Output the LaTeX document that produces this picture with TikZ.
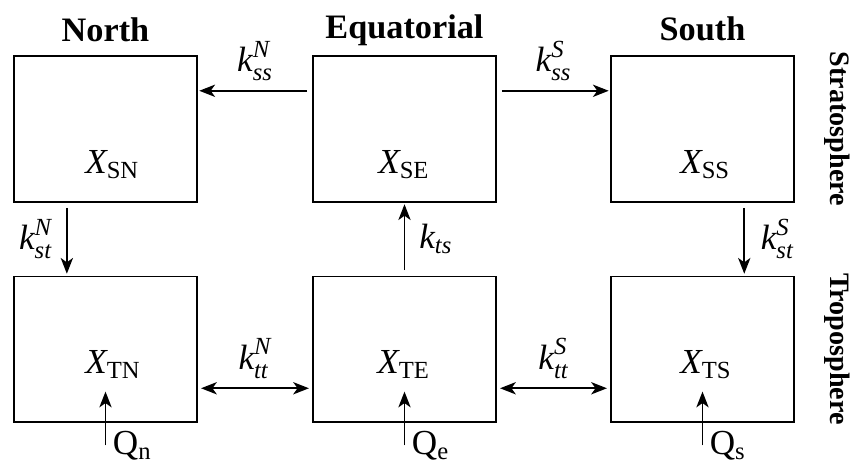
\documentclass[tikz,border=0pt]{standalone}
\usepackage{amsmath}
\usepackage{fontspec}
\setmainfont{Liberation Serif}
\usetikzlibrary{calc,arrows.meta,positioning}
\newcommand{\rate}[2]{$\textit{k}^{\textit{#2}}_{\textit{#1}}$}
\newcommand{\conc}[1]{$\textit{X}_{\text{#1}}$}
\newcommand{\src}[1]{Q$_{\text{#1}}$}
\tikzset{
  ar/.style={-{Stealth[length=9pt,width=7pt,inset=2.5pt]},line width=0.9pt,shorten <=3pt,shorten >=1pt},
  dar/.style={{Stealth[length=9pt,width=7pt,inset=2.5pt]}-{Stealth[length=9pt,width=7pt,inset=2.5pt]},line width=0.9pt,shorten <=2pt,shorten >=2pt},
  box/.style={draw,line width=0.6pt,minimum width=3.66cm,minimum height=2.92cm,inner sep=0pt},
  lbl/.style={font=\fontsize{20}{23}\selectfont,inner sep=5pt},
  ttl/.style={font=\fontsize{19.5}{22}\selectfont\bfseries,inner sep=0pt},
  side/.style={font=\fontsize{16}{19}\selectfont\bfseries,rotate=-90,inner sep=0pt}
}
\begin{document}
\begin{tikzpicture}[x=0.02cm,y=-0.02cm]
\useasboundingbox (0,0) rectangle (853,464);
% stratosphere row
\node[box] (sn) at (105.5,129) {};
\node[box,right=2.3cm of sn] (se) {};
\node[box,right=2.28cm of se] (ss) {};
% troposphere row
\node[box,below=1.46cm of sn] (tn) {};
\node[box,below=1.46cm of se] (te) {};
\node[box,below=1.46cm of ss] (ts) {};
% box contents
\node[lbl,anchor=base west,inner sep=0pt] (xsn) at (85,173) {\conc{SN}};
\node[lbl,anchor=base west,inner sep=0pt] (xse) at (378,173) {\conc{SE}};
\node[lbl,anchor=base west,inner sep=0pt] (xss) at (680,173) {\conc{SS}};
\node[lbl,anchor=base west,inner sep=0pt] (xtn) at (85,373) {\conc{TN}};
\node[lbl,anchor=base west,inner sep=0pt] (xte) at (377,373) {\conc{TE}};
\node[lbl,anchor=base west,inner sep=0pt] (xts) at (680,373) {\conc{TS}};
% headings
\node[ttl,anchor=base] (north) at ([yshift=8pt]sn.north) {North};
\node[ttl,anchor=base] (equ) at ([yshift=9.5pt]se.north) {Equatorial};
\node[ttl,anchor=base] (south) at ([yshift=8.5pt]ss.north) {South};
\node[side] (strat) at ([xshift=0.86cm]ss.east) {Stratosphere};
\node[side] (trop) at ([xshift=0.86cm]ts.east) {Troposphere};
% horizontal exchange
\coordinate (a1) at ($(se.north west)!0.24!(se.south west)$);
\draw[ar] (a1) -- (a1 -| sn.east) node[midway,above,lbl] {\rate{ss}{N}};
\coordinate (a2) at ($(se.north east)!0.24!(se.south east)$);
\draw[ar] (a2) -- (a2 -| ss.west) node[midway,above,lbl] {\rate{ss}{S}};
\coordinate (a3) at ($(tn.north east)!0.767!(tn.south east)$);
\draw[dar] (a3) -- (a3 -| te.west) node[midway,above,lbl] {\rate{tt}{N}};
\coordinate (a4) at ($(te.north east)!0.767!(te.south east)$);
\draw[dar] (a4) -- (a4 -| ts.west) node[midway,above,lbl] {\rate{tt}{S}};
% vertical exchange
\coordinate (v1) at ($(sn.south west)!0.29!(sn.south east)$);
\draw[ar] (v1) -- (v1 |- tn.north) node[midway,left,lbl,inner sep=8pt] {\rate{st}{N}};
\draw[ar] (te.north) -- (se.south) node[midway,right,lbl,inner sep=8pt] {$\textit{k}_{\textit{ts}}$};
\coordinate (v3) at ($(ss.south west)!0.727!(ss.south east)$);
\draw[ar] (v3) -- (v3 |- ts.north) node[midway,right,lbl,inner sep=9pt] {\rate{st}{S}};
% sources
\coordinate (qn) at ([yshift=-13pt]tn.south);
\coordinate (qnt) at ([yshift=17.6pt]tn.south);
\draw[ar,shorten <=0pt,shorten >=0pt] (qn) -- (qnt);
\node[lbl,anchor=base west,inner sep=0pt] (qnl) at ([xshift=4pt,yshift=-5pt]qn) {\src{n}};
\coordinate (qe) at ([yshift=-13pt]te.south);
\coordinate (qet) at ([yshift=17.6pt]te.south);
\draw[ar,shorten <=0pt,shorten >=0pt] (qe) -- (qet);
\node[lbl,anchor=base west,inner sep=0pt] (qel) at ([xshift=4pt,yshift=-5pt]qe) {\src{e}};
\coordinate (qs) at ([yshift=-13pt]ts.south);
\coordinate (qst) at ([yshift=17.6pt]ts.south);
\draw[ar,shorten <=0pt,shorten >=0pt] (qs) -- (qst);
\node[lbl,anchor=base west,inner sep=0pt] (qsl) at ([xshift=4pt,yshift=-5pt]qs) {\src{s}};
\end{tikzpicture}
\end{document}
